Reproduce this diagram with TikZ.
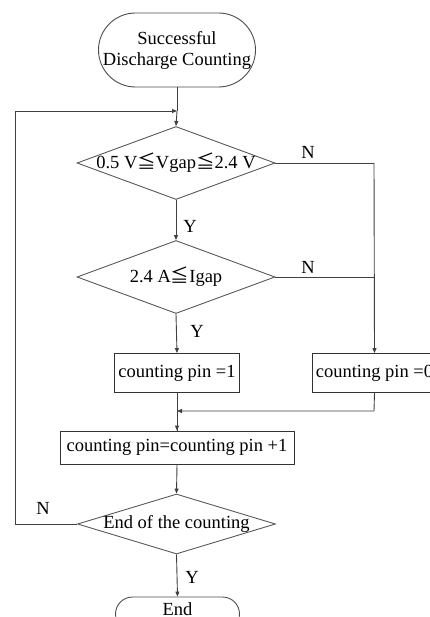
\documentclass[tikz,border=0pt]{standalone}
\usepackage{fontspec}
\setmainfont{Liberation Serif}
\newfontfamily\cjk{Noto Sans CJK SC}
\usetikzlibrary{shapes.geometric,shapes.misc,arrows.meta}
\begin{document}
\begin{tikzpicture}[x=1pt,y=-1pt,
  every node/.style={font=\fontsize{18.5}{22}\selectfont, inner sep=0pt},
  line/.style={draw=black!75, line width=0.9pt},
  arr/.style={line, -{Triangle[length=5pt,width=4pt]}},
  dia/.style={draw=black!65, line width=0.9pt, diamond, minimum width=198pt, minimum height=73pt},
  box/.style={draw=black!80, line width=0.9pt, rectangle, minimum width=125pt, minimum height=39pt},
  term/.style={draw=black!70, line width=0.9pt, rounded rectangle},
  lab/.style={font=\fontsize{18.5}{22}\selectfont}]
\useasboundingbox (0,0) rectangle (430,617);
\clip (0,0) rectangle (430,617);
% nodes
\node[term, minimum width=157pt, minimum height=74pt] (start) at (177,50) {};
\node[align=center] (starttxt) at (177,50) {Successful\\[-1pt]Discharge Counting};
\coordinate (loop) at (177,111);
\node[dia] (d1) at (176,163) {};
\node (d1t) at (176,163) {0.5 V{\cjk ≦}Vgap{\cjk ≦}2.4 V};
\node[dia] (d2) at (176,277) {};
\node (d2t) at (176,277) {2.4 A{\cjk ≦}Igap};
\node[box] (b1) at (177,373) {counting pin =1};
\node[box] (b2) at (374.5,373) {counting pin =0};
\node[box, minimum width=234pt, minimum height=33pt] (b3) at (177,447.5) {counting pin=counting pin +1};
\node[dia, minimum height=60pt] (d3) at (176.5,524) {};
\node (d3t) at (176.5,524) {End of the counting};
\node[term, minimum width=124pt, minimum height=34pt] (end) at (177.5,614) {};
\node (endtxt) at (177.5,609) {End};
\coordinate (r1) at (374,163);
\coordinate (r2) at (374,277);
\coordinate (m1) at (374,411);
\coordinate (m2) at (177,411);
\coordinate (l1) at (15,524);
\coordinate (l2) at (15,111);
% connectors
\draw[line] (start.south) -- (loop);
\draw[arr] (loop) -- (d1.north);
\draw[arr] (d1.south) -- (d2.north);
\draw[arr] (d2.south) -- (b1.north);
\draw[line] (d1.east) -- (r1);
\draw[line] (d2.east) -- (r2);
\draw[arr] (r1) -- (b2.north);
\draw[line] (b1.south) -- (b3.north);
\draw[arr] (b2.south) -- (m1) -- (m2);
\draw[arr] (m2) -- (b3.north);
\draw[arr] (b3.south) -- (d3.north);
\draw[arr] (d3.south) -- (end.north);
\draw[arr] (d3.west) -- (l1) -- (l2) -- (loop);
% labels
\node[lab] (n1) at (308,152) {N};
\node[lab] (n2) at (308,267) {N};
\node[lab] (y1) at (190,226) {Y};
\node[lab] (y2) at (197,331) {Y};
\node[lab] (n3) at (43,508) {N};
\node[lab] (y3) at (192,577) {Y};
\end{tikzpicture}
\end{document}
